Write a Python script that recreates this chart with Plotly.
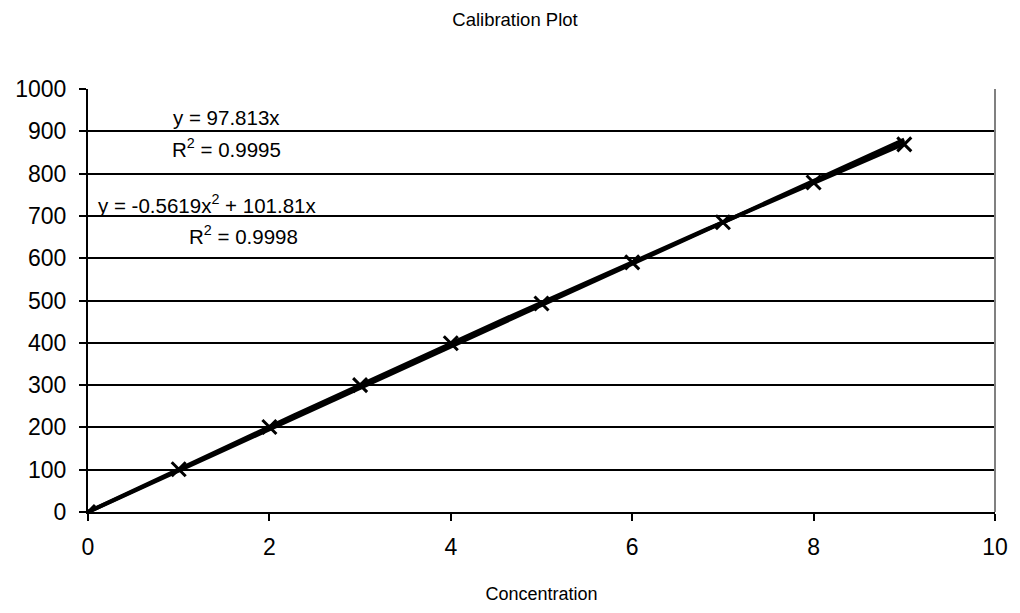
import numpy as np
import plotly.graph_objects as go

# Data
concentration = [0, 1, 2, 3, 4, 5, 6, 7, 8, 9]
response = [0, 101, 201, 300, 399, 493, 590, 685, 779, 869]

# Trendline coefficients (as displayed)
lin_slope = 97.813
lin_r2 = 0.9995
poly_a = -0.5619
poly_b = 101.81
poly_r2 = 0.9998

x_tick_vals = [0, 2, 4, 6, 8, 10]
y_tick_vals = [0, 100, 200, 300, 400, 500, 600, 700, 800, 900, 1000]

xs = np.linspace(0, max(concentration), 100)
lin_y = lin_slope * xs
poly_y = poly_a * xs**2 + poly_b * xs

font = "Liberation Sans, Arial, sans-serif"

fig = go.Figure()
fig.add_trace(go.Scatter(x=xs, y=lin_y, mode="lines",
                         line=dict(color="black", width=4), showlegend=False, hoverinfo="skip"))
fig.add_trace(go.Scatter(x=xs, y=poly_y, mode="lines",
                         line=dict(color="black", width=4), showlegend=False, hoverinfo="skip"))
fig.add_trace(go.Scatter(x=concentration, y=response, mode="markers",
                         marker=dict(symbol="x-thin", size=14, color="black",
                                     line=dict(color="black", width=3)),
                         showlegend=False))

ann = [
    ("y = 97.813x", 228, 118),
    (f"R<sup>2</sup> = {lin_r2}", 228, 149),
    (f"y = {poly_a}x<sup>2</sup> + {poly_b}x", 208, 205),
    (f"R<sup>2</sup> = {poly_r2}", 245, 237),
]
L, R, T, B = 88, 18, 89, 96
W, H = 1020, 613
pw, ph = W - L - R, H - T - B
for text, px, py in ann:
    fig.add_annotation(x=(px - L) / pw, y=1 - (py - T) / ph, xref="paper", yref="paper",
                       text=text, showarrow=False, xanchor="center", yanchor="middle",
                       font=dict(size=20.5, color="black", family=font))

# gray right border
fig.add_shape(type="line", xref="paper", yref="paper", x0=1, x1=1, y0=0, y1=1,
              line=dict(color="#808080", width=2))

fig.update_layout(
    width=W, height=H,
    margin=dict(l=L, r=R, t=T, b=B),
    paper_bgcolor="white", plot_bgcolor="white",
    title=dict(text="Calibration Plot", x=515 / W, xanchor="center", y=1 - 20 / H, yanchor="middle",
               font=dict(size=18.5, color="black", family=font)),
    font=dict(family=font, color="black", size=20),
    xaxis=dict(range=[0, 10], tickvals=x_tick_vals, showgrid=False, zeroline=False,
               showline=True, linecolor="black", linewidth=2, mirror=False,
               ticks="outside", ticklen=7, tickcolor="black", tickwidth=1.5,
               ticklabelstandoff=6,
               tickfont=dict(size=23), title=dict(text="Concentration", font=dict(size=18), standoff=29)),
    yaxis=dict(range=[0, 1000], tickvals=y_tick_vals, showgrid=True, gridcolor="black", gridwidth=1.5,
               zeroline=False, showline=True, linecolor="black", linewidth=2,
               ticks="outside", ticklen=7, tickcolor="black", tickwidth=1.5,
               ticklabelstandoff=8,
               tickfont=dict(size=23)),
)

fig.write_html("out.html", config={"displayModeBar": False},
               post_script="document.body.style.margin='0';document.body.style.overflow='hidden';")
